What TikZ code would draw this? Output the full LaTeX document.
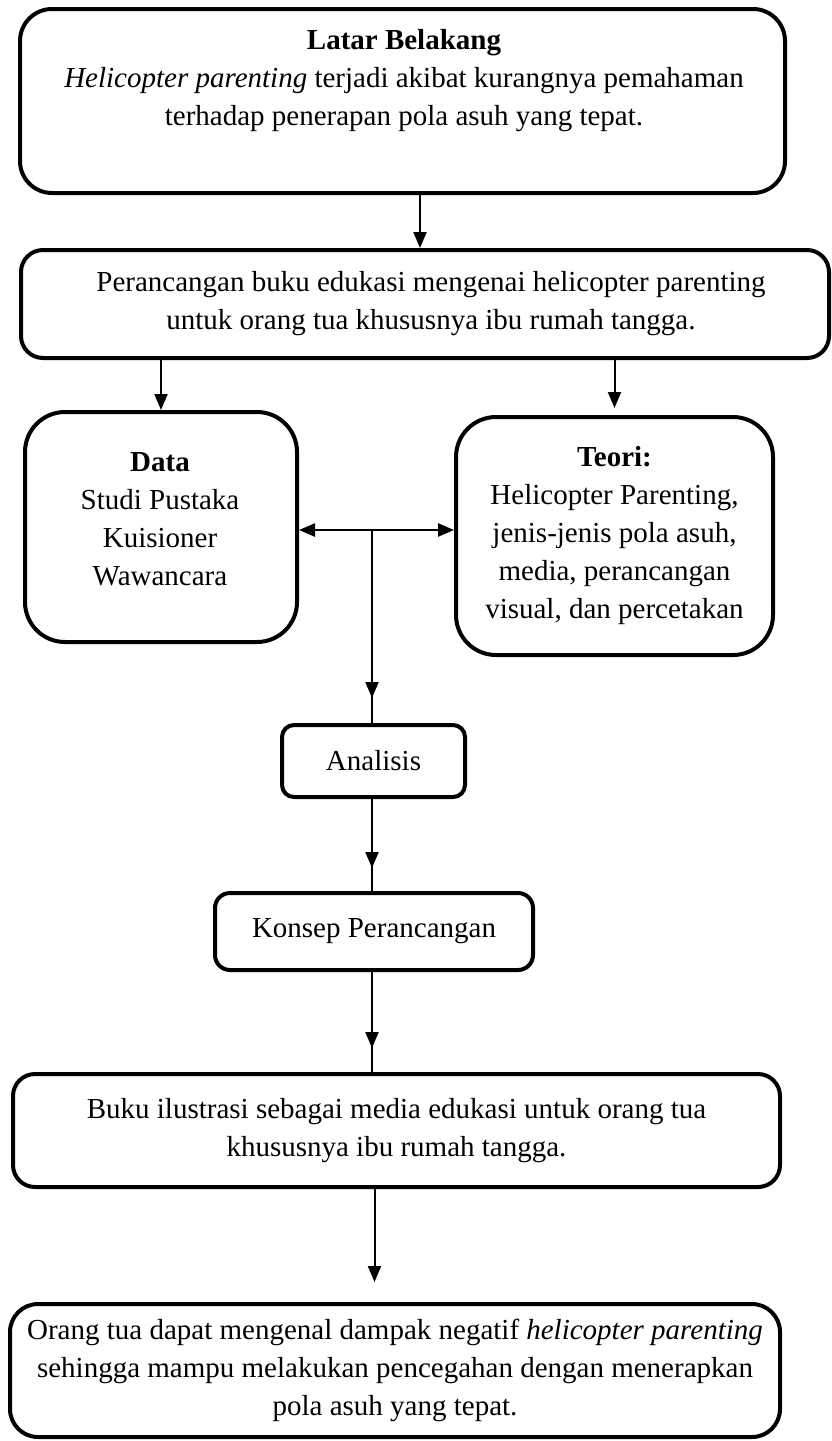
\documentclass[tikz,border=0pt]{standalone}
\usepackage{fontspec}
\setmainfont{Liberation Serif}
\usetikzlibrary{arrows.meta,decorations.markings,calc}
\begin{document}
\begin{tikzpicture}[x=1pt,y=-1pt,
  box/.style={draw,line width=4pt,rounded corners=#1,inner sep=0pt},
  box/.default=20pt,
  txt/.style={align=center,font=\fontsize{29}{38}\selectfont,inner sep=0pt},
  tip/.style={-{Triangle[width=13pt,length=16pt]}},
  conn/.style={line width=2pt},
  midtip/.style={postaction={decorate},decoration={markings,mark=at position #1 with {\arrow{Triangle[width=13pt,length=16pt]}}}}
]
\useasboundingbox (0,0) rectangle (831,1441);
% boxes
\node[box=32pt,minimum width=765pt,minimum height=184pt] (b1) at (402.5,101) {};
\node[txt] (t1) at (404,81) {\textbf{Latar Belakang}\\ \textit{Helicopter parenting} terjadi akibat kurangnya pemahaman\\ terhadap penerapan pola asuh yang tepat.};
\node[box=22pt,minimum width=808pt,minimum height=108pt,txt] (b2) at (425,304) {};
\node[txt] (t2) at (431,304) {Perancangan buku edukasi mengenai helicopter parenting\\ untuk orang tua khususnya ibu rumah tangga.};
\node[box=40pt,minimum width=272pt,minimum height=230pt] (data) at (161,527) {};
\node[txt] (tdata) at (160,519) {\textbf{Data}\\ Studi Pustaka\\ Kuisioner\\ Wawancara};
\node[box=40pt,minimum width=317pt,minimum height=238pt,txt] (teori) at (614.5,536) {\textbf{Teori:}\\ Helicopter Parenting,\\ jenis-jenis pola asuh,\\ media, perancangan\\ visual, dan percetakan};
\node[box=12pt,minimum width=183pt,minimum height=72pt,txt] (ana) at (373.5,761) {Analisis};
\node[box=15pt,minimum width=318pt,minimum height=77pt,txt] (kon) at (374,931.5) {Konsep Perancangan};
\node[box=22pt,minimum width=767pt,minimum height=113pt,txt] (b4) at (396.5,1130.5) {Buku ilustrasi sebagai media edukasi untuk orang tua\\ khususnya ibu rumah tangga.};
\node[box=28pt,minimum width=770pt,minimum height=133pt,txt] (b5) at (395,1370.5) {Orang tua dapat mengenal dampak negatif \textit{helicopter parenting}\\ sehingga mampu melakukan pencegahan dengan menerapkan\\ pola asuh yang tepat.};
% connectors
\draw[conn,tip] ([xshift=17.5pt]b1.south) -- ([xshift=17.5pt]b1.south |- b2.north);
\draw[conn,tip] (b2.south -| data.north) -- (data.north);
\draw[conn,tip,shorten >=7pt] (b2.south -| teori.north) -- (teori.north);
\coordinate (hub) at (372,530);
\draw[conn,line width=2.5pt,tip] (hub) -- (hub -| data.east);
\draw[conn,line width=2.5pt,tip] (hub) -- (hub -| teori.west);
\draw[conn,midtip=-25pt] (hub) -- (hub |- ana.north);
\draw[conn,midtip=-23pt] (hub |- ana.south) -- (hub |- kon.north);
\draw[conn,midtip=-24pt] (hub |- kon.south) -- (hub |- b4.north);
\draw[conn,tip,shorten >=20pt] ([xshift=-22pt]b4.south) -- ([xshift=-22pt]b4.south |- b5.north);
\end{tikzpicture}
\end{document}
